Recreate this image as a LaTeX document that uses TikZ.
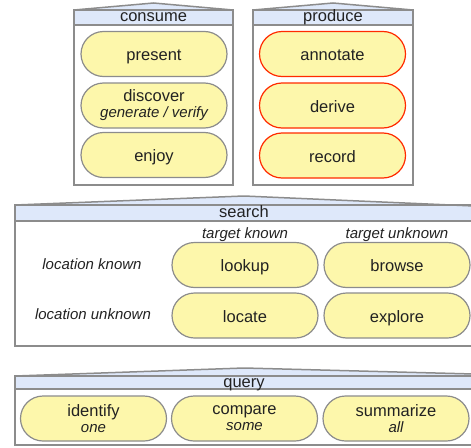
\documentclass[tikz,border=0pt]{standalone}
\usepackage{fontspec}
\setmainfont{Liberation Sans}
\usepackage{tikz}
\usetikzlibrary{shapes.misc}
\definecolor{pillYellow}{HTML}{FDF7AB}
\definecolor{headBlue}{HTML}{DEE8FA}
\definecolor{lineGray}{HTML}{8C8C8C}
\definecolor{taskRed}{HTML}{FF2A00}
\definecolor{textDark}{HTML}{222222}

\begin{document}
\begin{tikzpicture}[x=1pt, y=-1pt,
  pill/.style={rounded rectangle, draw=lineGray, line width=1.2pt, fill=pillYellow,
    minimum width=146pt, minimum height=45pt, inner sep=0pt, align=center,
    text=textDark, font=\fontsize{16.5}{17}\selectfont},
  onepill/.style={pill, text height=16.6pt, text depth=3pt},
  redpill/.style={onepill, draw=taskRed},
  frameline/.style={draw=lineGray, line width=1.5pt},
  headfill/.style={fill=headBlue},
  headtext/.style={text=textDark, font=\fontsize{16.5}{17}\selectfont,
    text height=8.6pt, text depth=0pt, inner sep=0pt},
  sidetext/.style={text=textDark, font=\fontsize{15}{16}\selectfont\itshape,
    text height=7.8pt, text depth=0pt, inner sep=0pt}]
\useasboundingbox (0,0) rectangle (471,447);
\clip (0,0) rectangle (471,447);
% ---------- consume ----------
\fill[headfill] (74,25) -- (74,10) -- (153.5,3) -- (233,10) -- (233,25) -- cycle;
\draw[frameline] (74,10) -- (153.5,3) -- (233,10);
\draw[frameline] (74,10) rectangle (233,185);
\draw[frameline] (74,25) -- (233,25);
\node[headtext] (consume) at (153.5,17.4) {consume};
\node[onepill] (present) at (154,54) {present};
\node[pill] (discover) at (154,105.5) {discover\\[-1pt]{\fontsize{15}{16}\selectfont\itshape generate / verify}};
\node[onepill] (enjoy) at (154,155) {enjoy};
% ---------- produce ----------
\fill[headfill] (253,25) -- (253,10) -- (333,3) -- (413,10) -- (413,25) -- cycle;
\draw[frameline] (253,10) -- (333,3) -- (413,10);
\draw[frameline] (253,10) rectangle (413,185);
\draw[frameline] (253,25) -- (413,25);
\node[headtext] (produce) at (333,17.4) {produce};
\node[redpill] (annotate) at (332.5,54) {annotate};
\node[redpill] (derive) at (332.5,105.5) {derive};
\node[redpill] (record) at (332.5,155.5) {record};
% ---------- search ----------
\fill[headfill] (15,221) -- (15,205) -- (244,196) -- (474,206) -- (474,221) -- cycle;
\draw[frameline] (15,205) -- (244,196) -- (474,206);
\draw[frameline] (15,205) rectangle (474,346);
\draw[frameline] (15,221) -- (474,221);
\node[headtext] (search) at (244,212.7) {search};
\node[sidetext] (tknown) at (245,234.5) {target known};
\node[sidetext] (tunknown) at (397,234.5) {target unknown};
\node[sidetext] (lknown) at (92,266) {location known};
\node[sidetext] (lunknown) at (93,316) {location unknown};
\node[onepill] (lookup) at (245,265) {lookup};
\node[onepill] (browse) at (397,265) {browse};
\node[onepill] (locate) at (245,315.5) {locate};
\node[onepill] (explore) at (397,315.5) {explore};
% ---------- query ----------
\fill[headfill] (15,389) -- (15,376) -- (244,368) -- (474,374) -- (474,389) -- cycle;
\draw[frameline] (15,376) -- (244,368) -- (474,374);
\draw[frameline] (15,376) rectangle (474,445);
\draw[frameline] (15,389) -- (474,389);
\node[headtext] (query) at (244,382.7) {query};
\node[pill] (identify) at (93.5,418.5) {identify\\[-1pt]{\fontsize{15}{16}\selectfont\itshape one}};
\node[pill] (compare) at (244.5,418.5) {compare\\[-1pt]{\fontsize{15}{16}\selectfont\itshape some}};
\node[pill] (summarize) at (396,418.5) {summarize\\[-1pt]{\fontsize{15}{16}\selectfont\itshape all}};
\end{tikzpicture}
\end{document}
